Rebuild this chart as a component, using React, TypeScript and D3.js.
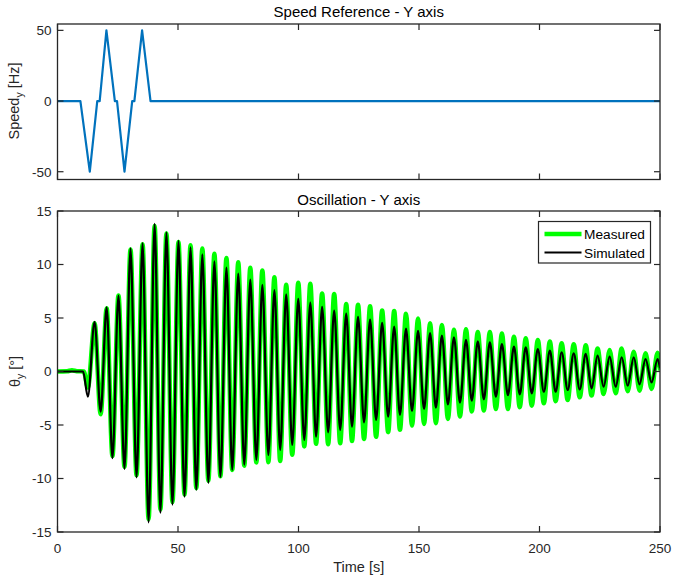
import React from 'react';
import * as d3 from 'd3';

// speed reference (top panel), piecewise linear
const speedTimes = [0, 9.5, 13.4, 16.5, 17.5, 20.3, 23.8, 24.7, 27.8, 31.0, 31.9, 35.1, 38.6, 250];
const speedValues = [0, 0, -50, 0, 0, 50, 0, 0, -50, 0, 0, 50, 0, 0];

// oscillation extrema
const peakTimes = [15.4, 20.4, 25.3, 30.3, 35.3, 40.3, 45.2, 50.2, 55.2, 60.1, 65.1, 70.1, 75.0, 80.0, 85.0, 90.0,
  94.9, 99.9, 104.9, 109.8, 114.8, 119.8, 124.7, 129.7, 134.7, 139.7, 144.6, 149.6, 154.6, 159.5, 164.5, 169.5,
  174.4, 179.4, 184.4, 189.4, 194.3, 199.3, 204.3, 209.2, 214.2, 219.2, 224.1, 229.1, 234.1, 239.1, 244.0, 249.0];
const troughTimes = [12.6, 17.9, 22.8, 27.8, 32.8, 37.8, 42.7, 47.7, 52.7, 57.6, 62.6, 67.6, 72.5, 77.5, 82.5, 87.5,
  92.4, 97.4, 102.4, 107.3, 112.3, 117.3, 122.2, 127.2, 132.2, 137.2, 142.1, 147.1, 152.1, 157.0, 162.0, 167.0,
  171.9, 176.9, 181.9, 186.9, 191.8, 196.8, 201.8, 206.7, 211.7, 216.7, 221.6, 226.6, 231.6, 236.6, 241.5, 246.5];

const measuredPeaks = [4.5, 5.9, 7.1, 11.4, 11.9, 13.6, 12.9, 12.1, 11.8, 11.5, 11.0, 10.6, 10.2, 9.7, 9.45, 8.8,
  8.1, 8.3, 8.2, 7.3, 7.25, 6.3, 6.25, 6.1, 5.7, 5.65, 5.4, 4.95, 4.5, 4.35, 3.9, 3.95,
  3.7, 3.7, 3.55, 3.25, 3.1, 2.95, 2.8, 2.65, 2.55, 2.45, 2.15, 2.0, 2.15, 1.85, 1.7, 1.75];
const measuredTroughs = [-1.5, -4.0, -7.9, -8.9, -9.7, -13.8, -12.9, -12.2, -11.5, -10.9, -10.2, -9.8, -9.2, -8.8, -8.5, -8.47,
  -8.37, -7.78, -7.0, -6.76, -6.8, -6.7, -6.5, -6.3, -6.1, -5.67, -5.45, -5.05, -4.9, -4.83, -4.43, -4.21,
  -3.74, -3.65, -3.5, -3.5, -3.34, -3.19, -2.97, -2.78, -2.66, -2.41, -2.25, -2.1, -2.04, -1.85, -1.79, -1.63];
const simulatedPeaks = [4.65, 6.0, 7.1, 11.5, 12.0, 13.8, 13.0, 12.2, 11.6, 10.95, 10.3, 9.7, 9.15, 8.6, 8.1, 7.6,
  7.2, 6.8, 6.45, 6.05, 5.7, 5.4, 5.1, 4.85, 4.55, 4.2, 4.0, 3.8, 3.6, 3.35, 3.2, 2.95,
  2.82, 2.73, 2.57, 2.32, 2.26, 2.1, 1.95, 1.8, 1.7, 1.64, 1.48, 1.39, 1.33, 1.33, 1.17, 1.17];
const simulatedTroughs = [-2.35, -3.75, -8.1, -9.1, -9.9, -14.1, -13.2, -12.45, -11.7, -11.05, -10.4, -9.85, -9.2, -8.7, -8.26, -7.8,
  -7.33, -6.86, -6.4, -6.08, -5.68, -5.46, -5.15, -4.75, -4.53, -4.22, -4.06, -3.69, -3.5, -3.38, -3.07, -2.9,
  -2.73, -2.6, -2.35, -2.2, -2.14, -2.04, -1.89, -1.89, -1.73, -1.67, -1.58, -1.42, -1.42, -1.33, -1.2, -1.02];

// quiet part before the excitation and the last sample
const measuredLeadTimes = [0, 4, 6, 8, 10.9];
const measuredLeadValues = [0, 0.02, 0.12, 0.03, 0];
const simulatedLeadTimes = [0, 10.6];
const simulatedLeadValues = [0, 0];
const endTime = 250;
const measuredEnd = 0.1;
const simulatedEnd = 0.3;

const timeTicks = [0, 50, 100, 150, 200, 250];
const speedTicks = [-50, 0, 50];
const angleTicks = [-15, -10, -5, 0, 5, 10, 15];

const AX = '#262626';
const FONT = '"Liberation Sans", Arial, Helvetica, sans-serif';

type Pt = [number, number];

function buildSeries(leadT: number[], leadV: number[], troughs: number[], peaks: number[], endV: number): Pt[] {
  const pts: Pt[] = leadT.map((t, i) => [t, leadV[i]] as Pt);
  troughTimes.forEach((t, i) => {
    pts.push([t, troughs[i]]);
    pts.push([peakTimes[i], peaks[i]]);
  });
  pts.push([endTime, endV]);
  return pts;
}

function Axes({ x, y, xTicks, yTicks, showX }: any) {
  const [x0, x1] = x.range();
  const [y0, y1] = y.range(); // y0 bottom, y1 top
  const tl = 6;
  return (
    <g>
      {xTicks.map((t: number) => (
        <g key={'x' + t}>
          <line x1={x(t)} x2={x(t)} y1={y0} y2={y0 - tl} stroke={AX} strokeWidth={1.2} />
          <line x1={x(t)} x2={x(t)} y1={y1} y2={y1 + tl} stroke={AX} strokeWidth={1.2} />
          {showX && (
            <text x={x(t)} y={y0 + 21} textAnchor="middle" fontSize={13.5} fill={AX}>{t}</text>
          )}
        </g>
      ))}
      {yTicks.map((t: number) => (
        <g key={'y' + t}>
          <line x1={x0} x2={x0 + tl} y1={y(t)} y2={y(t)} stroke={AX} strokeWidth={1.2} />
          <line x1={x1} x2={x1 - tl} y1={y(t)} y2={y(t)} stroke={AX} strokeWidth={1.2} />
          <text x={x0 - 6} y={y(t) + 4.8} textAnchor="end" fontSize={13.5} fill={AX}>{t}</text>
        </g>
      ))}
      <rect x={x0} y={y1} width={x1 - x0} height={y0 - y1} fill="none" stroke={AX} strokeWidth={1.3} />
    </g>
  );
}

export default function App() {
  const x = d3.scaleLinear().domain([0, 250]).range([57.5, 660]);
  const ySpeed = d3.scaleLinear().domain([-55.5, 54.5]).range([179.5, 24]);
  const yAngle = d3.scaleLinear().domain([-15, 15]).range([532, 211]);

  const speedLine = d3.line<number>()
    .x((d, i) => x(speedTimes[i]))
    .y(d => ySpeed(d));

  const oscLine = d3.line<Pt>()
    .x(d => x(d[0]))
    .y(d => yAngle(d[1]))
    .curve(d3.curveMonotoneX);

  const measured = buildSeries(measuredLeadTimes, measuredLeadValues, measuredTroughs, measuredPeaks, measuredEnd);
  const simulated = buildSeries(simulatedLeadTimes, simulatedLeadValues, simulatedTroughs, simulatedPeaks, simulatedEnd);

  const legX = 538.5;
  const legY = 221.5;

  return (
    <svg width={673} height={582} style={{ position: 'absolute', left: 0, top: 0, fontFamily: FONT }}>
      <rect width={673} height={582} fill="#fff" />
      <defs>
        <clipPath id="clipTop"><rect x={57.5} y={24} width={602.5} height={155.5} /></clipPath>
        <clipPath id="clipBot"><rect x={57.5} y={211} width={602.5} height={321} /></clipPath>
      </defs>

      {/* top panel */}
      <text x={358.75} y={17} textAnchor="middle" fontSize={15} fill="#000">Speed Reference - Y axis</text>
      <path d={speedLine(speedValues) || ''} fill="none" stroke="#0072BD" strokeWidth={2.2} clipPath="url(#clipTop)" strokeLinejoin="round" />
      <Axes x={x} y={ySpeed} xTicks={timeTicks} yTicks={speedTicks} showX={false} />
      <text transform={`translate(18.5,${ySpeed(0)}) rotate(-90)`} textAnchor="middle" fontSize={14.5} fill={AX}>
        Speed<tspan fontSize={10.5} dy={4}>y</tspan><tspan dy={-4}> [Hz]</tspan>
      </text>

      {/* bottom panel */}
      <text x={358.75} y={205} textAnchor="middle" fontSize={15} fill="#000">Oscillation - Y axis</text>
      <g clipPath="url(#clipBot)">
        <path d={oscLine(measured) || ''} fill="none" stroke="#00FF00" strokeWidth={4.5} />
        <path d={oscLine(simulated) || ''} fill="none" stroke="#000" strokeWidth={2.2} />
      </g>
      <Axes x={x} y={yAngle} xTicks={timeTicks} yTicks={angleTicks} showX={true} />
      <text x={358.75} y={572} textAnchor="middle" fontSize={14.5} fill={AX}>Time [s]</text>
      <text transform={`translate(19.5,${yAngle(0)}) rotate(-90)`} textAnchor="middle" fontSize={14.5} fill={AX}>
        θ<tspan fontSize={10.5} dy={4}>y</tspan><tspan dy={-4}> [°]</tspan>
      </text>

      {/* legend */}
      <rect x={legX} y={legY} width={112} height={41.5} fill="#fff" stroke={AX} strokeWidth={1.2} />
      <line x1={legX + 6} x2={legX + 43} y1={legY + 12.5} y2={legY + 12.5} stroke="#00FF00" strokeWidth={4.5} />
      <text x={legX + 45.5} y={legY + 17.5} fontSize={13.7} fill="#000">Measured</text>
      <line x1={legX + 6} x2={legX + 43} y1={legY + 31} y2={legY + 31} stroke="#000" strokeWidth={2} />
      <text x={legX + 45.5} y={legY + 36} fontSize={13.7} fill="#000">Simulated</text>
    </svg>
  );
}
